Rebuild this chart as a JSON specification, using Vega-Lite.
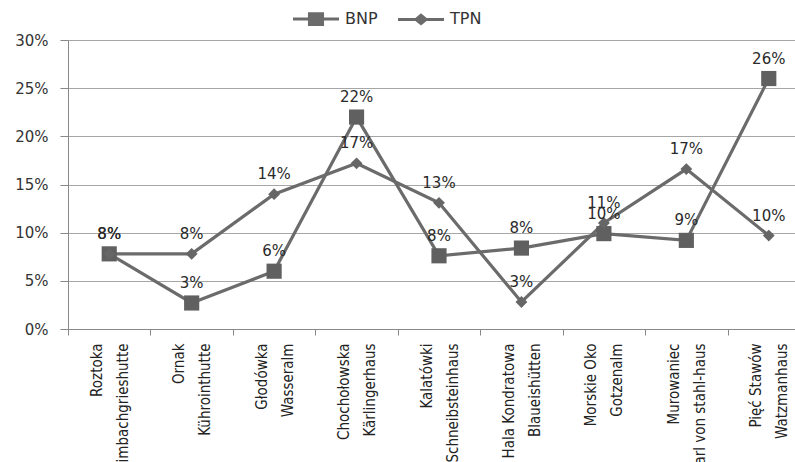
{
  "$schema": "https://vega.github.io/schema/vega-lite/v6.json",
  "autosize": "none",
  "width": 727,
  "height": 289,
  "padding": {"left": 68, "top": 40, "right": 0, "bottom": 133},
  "background": "white",
  "config": {"view": {"stroke": null}},
  "data": {
    "values": [
      {"place": "Roztoka|Wimbachgrieshutte", "series": "BNP", "value": 0.078},
      {"place": "Ornak|Kührointhutte", "series": "BNP", "value": 0.027},
      {"place": "Głodówka|Wasseralm", "series": "BNP", "value": 0.060},
      {"place": "Chochołowska|Kärlingerhaus", "series": "BNP", "value": 0.220},
      {"place": "Kalatówki|Schneibsteinhaus", "series": "BNP", "value": 0.076},
      {"place": "Hala Kondratowa|Blaueishütten", "series": "BNP", "value": 0.084},
      {"place": "Morskie Oko|Gotzenalm", "series": "BNP", "value": 0.099},
      {"place": "Murowaniec|Carl von stahl-haus", "series": "BNP", "value": 0.092},
      {"place": "Pięć Stawów|Watzmanhaus", "series": "BNP", "value": 0.260},
      {"place": "Roztoka|Wimbachgrieshutte", "series": "TPN", "value": 0.078},
      {"place": "Ornak|Kührointhutte", "series": "TPN", "value": 0.078},
      {"place": "Głodówka|Wasseralm", "series": "TPN", "value": 0.140},
      {"place": "Chochołowska|Kärlingerhaus", "series": "TPN", "value": 0.172},
      {"place": "Kalatówki|Schneibsteinhaus", "series": "TPN", "value": 0.131},
      {"place": "Hala Kondratowa|Blaueishütten", "series": "TPN", "value": 0.028},
      {"place": "Morskie Oko|Gotzenalm", "series": "TPN", "value": 0.110},
      {"place": "Murowaniec|Carl von stahl-haus", "series": "TPN", "value": 0.166},
      {"place": "Pięć Stawów|Watzmanhaus", "series": "TPN", "value": 0.097}
    ]
  },
  "encoding": {
    "x": {
      "field": "place",
      "type": "nominal",
      "sort": null,
      "scale": {"type": "band", "paddingInner": 0, "paddingOuter": 0, "range": [0, 742]},
      "axis": {
        "title": null,
        "labelExpr": "split(datum.label, '|')",
        "labelAngle": -90,
        "labelAlign": "right",
        "labelBaseline": "middle",
        "labelPadding": 8,
        "labelOffset": -13,
        "labelLineHeight": 26,
        "labelFont": "Liberation Sans Narrow, DejaVu Sans Condensed, sans-serif",
        "labelFontSize": 15,
        "labelColor": "#222222",
        "labelOverlap": false,
        "labelLimit": 300,
        "tickBand": "extent",
        "tickSize": 6,
        "tickColor": "#888888",
        "domainColor": "#888888",
        "grid": false
      }
    },
    "y": {
      "field": "value",
      "type": "quantitative",
      "scale": {"domain": [0, 0.3], "nice": false},
      "axis": {
        "title": null,
        "format": ".0%",
        "values": [0, 0.05, 0.1, 0.15, 0.2, 0.25, 0.3],
        "grid": true,
        "gridColor": "#a6a6a6",
        "domainColor": "#888888",
        "tickColor": "#888888",
        "tickSize": 8,
        "labelPadding": 12,
        "labelFont": "DejaVu Sans",
        "labelFontSize": 15,
        "labelColor": "#333333"
      }
    }
  },
  "layer": [
    {
      "mark": {"type": "line", "color": "#6b6b6b", "strokeWidth": 3.2},
      "encoding": {"detail": {"field": "series"}}
    },
    {
      "transform": [{"filter": "datum.series === 'BNP'"}],
      "mark": {"type": "point", "shape": "square", "filled": true, "opacity": 1, "color": "#606060", "size": 230}
    },
    {
      "transform": [{"filter": "datum.series === 'TPN'"}],
      "mark": {"type": "point", "shape": "diamond", "filled": true, "opacity": 1, "color": "#666666", "size": 140}
    },
    {
      "mark": {"type": "point", "filled": true, "opacity": 0, "color": "#6b6b6b"},
      "encoding": {
        "shape": {
          "field": "series",
          "type": "nominal",
          "scale": {
            "domain": ["BNP", "TPN"],
            "range": [
              "M-1,-0.065H1V0.065H-1Z M-0.35,-0.3H0.35V0.3H-0.35Z",
              "M-1,-0.065H1V0.065H-1Z M0,-0.27L0.32,0L0,0.27L-0.32,0Z"
            ]
          },
          "legend": {
            "title": null,
            "orient": "none",
            "legendX": 224,
            "legendY": -45,
            "direction": "horizontal",
            "columnPadding": 17,
            "labelOffset": 5,
            "labelFont": "DejaVu Sans",
            "labelFontSize": 16,
            "labelColor": "#333333",
            "symbolSize": 2116,
            "padding": 0,
            "encode": {
              "symbols": {
                "update": {
                  "opacity": {"value": 1},
                  "fill": {"value": "#666666"},
                  "fillOpacity": {"value": 1},
                  "strokeWidth": {"value": 0},
                  "size": {"value": 2116}
                }
              }
            }
          }
        }
      }
    },
    {
      "mark": {"type": "text", "dy": -20, "font": "DejaVu Sans", "fontSize": 15, "color": "#2a2a2a", "baseline": "middle"},
      "encoding": {"text": {"field": "value", "type": "quantitative", "format": ".0%"}}
    }
  ]
}
